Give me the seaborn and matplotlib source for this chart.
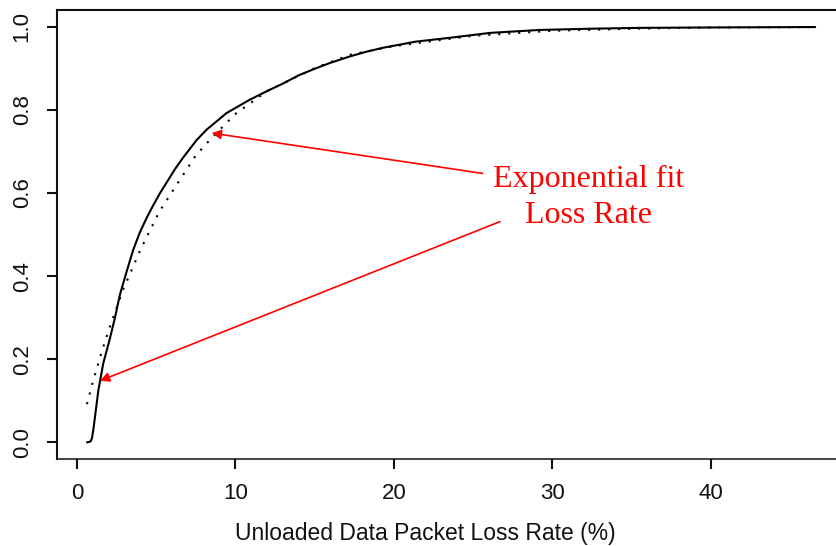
import matplotlib
matplotlib.use("Agg")
import matplotlib.pyplot as plt
import seaborn as sns
import pandas as pd

# Empirical loss rate CDF (solid)
loss_x = [0.63, 0.85, 0.95, 1.05, 1.2, 1.35, 1.66, 2.08, 2.4, 2.71, 3.13, 3.55,
          3.97, 4.4, 4.81, 5.25, 5.66, 6.2, 6.7, 7.55, 8.18, 9.44, 10.9, 12.0,
          13.0, 14.0, 15.1, 16.0, 17.2, 18.2, 19.3, 21.4, 23.5, 26.1, 29.2,
          32.4, 35.5, 40.0, 46.6]
loss_y = [0.0, 0.002, 0.01, 0.035, 0.08, 0.125, 0.19, 0.25, 0.30, 0.355, 0.41,
          0.463, 0.505, 0.54, 0.57, 0.60, 0.625, 0.658, 0.685, 0.727, 0.752,
          0.792, 0.824, 0.845, 0.863, 0.883, 0.900, 0.913, 0.928, 0.939, 0.949,
          0.964, 0.973, 0.985, 0.992, 0.995, 0.997, 0.998, 0.999]

# Exponential fit (dotted)
fit_x = [0.63, 1.0, 1.5, 2.0, 2.9, 4.0, 5.2, 6.3, 7.5, 8.4, 10.0, 12.0, 15.0,
         17.2, 20.0, 25.0, 30.0, 35.0, 40.0, 46.6]
fit_y = [0.092, 0.145, 0.21, 0.27, 0.366, 0.463, 0.555, 0.62, 0.69, 0.728, 0.79,
         0.845, 0.90, 0.932, 0.953, 0.978, 0.99, 0.995, 0.998, 0.999]

x_ticks = [0, 10, 20, 30, 40]
y_ticks = [0.0, 0.2, 0.4, 0.6, 0.8, 1.0]
y_tick_labels = ["0.0", "0.2", "0.4", "0.6", "0.8", "1.0"]

x_label = "Unloaded Data Packet Loss Rate (%)"
ann_texts = ["Exponential fit", "Loss Rate"]

sns.set_style("ticks")
plt.rcParams["font.family"] = ["Liberation Sans", "DejaVu Sans"]

fig = plt.figure(figsize=(8.36, 5.46), dpi=100)
ax = fig.add_axes([57 / 836, (546 - 459) / 546, (851 - 57) / 836, (459 - 10) / 546])

df_loss = pd.DataFrame({"x": loss_x, "y": loss_y})
df_fit = pd.DataFrame({"x": fit_x, "y": fit_y})

sns.lineplot(data=df_fit, x="x", y="y", ax=ax, sort=False, estimator=None,
             color="black", lw=1.5, linestyle=(0, (1, 3.8)))
sns.lineplot(data=df_loss, x="x", y="y", ax=ax, sort=False, estimator=None,
             color="black", lw=1.5)

ax.set_xlim(-1.26, 48.86)
ax.set_ylim(-0.04, 1.04)
ax.set_xticks(x_ticks)
ax.set_xticklabels([str(t) for t in x_ticks])
ax.set_yticks(y_ticks)
ax.set_yticklabels(y_tick_labels)
ax.tick_params(axis="both", length=7, width=1.5, pad=10.5, labelsize=16,
               colors="#111111")
ax.tick_params(axis="y", labelrotation=90)
for lbl in ax.get_yticklabels():
    lbl.set_va("center")

for side in ["left", "top", "bottom", "right"]:
    ax.spines[side].set_visible(True)
    ax.spines[side].set_linewidth(1.5)
    ax.spines[side].set_color("#111111")
ax.spines["bottom"].set_linewidth(1.1)

ax.set_ylabel("")
ax.set_xlabel(x_label, fontsize=16.5, color="#111111")
ax.xaxis.set_label_coords((425 - 57) / (851 - 57), -0.140)
ax.xaxis.label.set_va("top")

# Annotations
ax.text(32.3, 0.614, ann_texts[0], color="red", fontsize=23, ha="center",
        va="baseline", family=["Liberation Serif", "DejaVu Serif"])
ax.text(32.3, 0.528, ann_texts[1], color="red", fontsize=23, ha="center",
        va="baseline", family=["Liberation Serif", "DejaVu Serif"])

arrow = dict(arrowstyle="-|>", color="red", lw=1.2, mutation_scale=14,
             shrinkA=0, shrinkB=0)
ax.annotate("", xy=(8.5, 0.744), xytext=(25.6, 0.647), arrowprops=arrow)
ax.annotate("", xy=(1.45, 0.148), xytext=(26.7, 0.531), arrowprops=arrow)

fig.savefig("out.png", dpi=100)
